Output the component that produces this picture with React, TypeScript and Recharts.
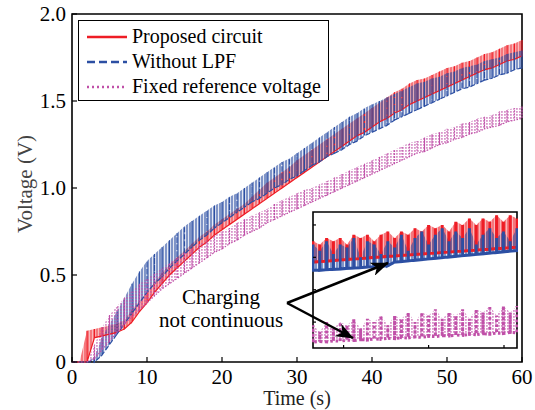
import { ComposedChart, Line, Area, XAxis, YAxis, Legend, ReferenceArea } from "recharts";

const SERIF = "'Liberation Serif', 'Times New Roman', serif";
const RED = "#EE1D25";
const BLUE = "#2C4FA3";
const MAGENTA = "#C050A8";

// main plot: one sample per second, lower and upper edge of each ripple band
const TIME = [
  0, 1, 2, 3, 4, 5, 6, 7, 8, 9, 10, 11, 12, 13, 14, 15, 16, 17, 18, 19, 20,
  21, 22, 23, 24, 25, 26, 27, 28, 29, 30, 31, 32, 33, 34, 35, 36, 37, 38, 39, 40,
  41, 42, 43, 44, 45, 46, 47, 48, 49, 50, 51, 52, 53, 54, 55, 56, 57, 58, 59, 60,
];
const RED_LOW = [
  0, 0, 0, 0.14, 0.15, 0.16, 0.17, 0.19, 0.23, 0.29, 0.34, 0.4, 0.45, 0.5, 0.54, 0.58, 0.62, 0.66, 0.69, 0.73, 0.76,
  0.79, 0.82, 0.85, 0.88, 0.91, 0.94, 0.97, 1.0, 1.03, 1.06, 1.09, 1.12, 1.15, 1.18, 1.21, 1.24, 1.27, 1.3, 1.32, 1.35,
  1.38, 1.4, 1.43, 1.45, 1.48, 1.5, 1.52, 1.54, 1.56, 1.58, 1.6, 1.62, 1.64, 1.66, 1.68, 1.69, 1.71, 1.73, 1.74, 1.76,
];
const RED_HIGH = [
  0, 0, 0.18, 0.19, 0.2, 0.21, 0.22, 0.24, 0.3, 0.35, 0.4, 0.46, 0.51, 0.56, 0.6, 0.64, 0.68, 0.72, 0.75, 0.79, 0.82,
  0.85, 0.88, 0.91, 0.95, 0.99, 1.03, 1.06, 1.09, 1.12, 1.16, 1.19, 1.22, 1.25, 1.28, 1.31, 1.34, 1.37, 1.4, 1.43, 1.46,
  1.49, 1.52, 1.55, 1.57, 1.6, 1.62, 1.63, 1.65, 1.67, 1.69, 1.7, 1.72, 1.73, 1.75, 1.77, 1.78, 1.8, 1.82, 1.83, 1.85,
];
const BLUE_LOW = [
  0, 0, 0, 0, 0.04, 0.1, 0.16, 0.22, 0.28, 0.34, 0.4, 0.45, 0.49, 0.54, 0.58, 0.62, 0.66, 0.7, 0.73, 0.77, 0.8,
  0.83, 0.86, 0.89, 0.92, 0.94, 0.97, 1.0, 1.02, 1.05, 1.07, 1.1, 1.13, 1.15, 1.18, 1.2, 1.22, 1.25, 1.27, 1.3, 1.32,
  1.34, 1.36, 1.39, 1.41, 1.43, 1.45, 1.47, 1.49, 1.51, 1.53, 1.55, 1.57, 1.58, 1.6, 1.62, 1.63, 1.65, 1.66, 1.68, 1.69,
];
const BLUE_HIGH = [
  0, 0, 0, 0.03, 0.14, 0.22, 0.29, 0.37, 0.45, 0.52, 0.58, 0.62, 0.66, 0.7, 0.74, 0.78, 0.81, 0.84, 0.87, 0.9, 0.92,
  0.95, 0.97, 1.0, 1.03, 1.06, 1.09, 1.12, 1.15, 1.17, 1.2, 1.23, 1.26, 1.29, 1.32, 1.35, 1.38, 1.41, 1.43, 1.46, 1.48,
  1.5, 1.52, 1.54, 1.56, 1.58, 1.6, 1.61, 1.63, 1.64, 1.66, 1.67, 1.69, 1.7, 1.71, 1.73, 1.74, 1.75, 1.77, 1.78, 1.79,
];
const MAG_LOW = [
  0, 0, 0, 0.02, 0.07, 0.12, 0.17, 0.22, 0.26, 0.3, 0.34, 0.38, 0.42, 0.45, 0.48, 0.51, 0.54, 0.57, 0.6, 0.63, 0.65,
  0.68, 0.7, 0.73, 0.75, 0.77, 0.8, 0.82, 0.84, 0.86, 0.88, 0.9, 0.92, 0.94, 0.96, 0.98, 1.0, 1.02, 1.04, 1.06, 1.08,
  1.1, 1.12, 1.14, 1.16, 1.18, 1.2, 1.21, 1.23, 1.25, 1.26, 1.28, 1.29, 1.31, 1.32, 1.34, 1.35, 1.36, 1.38, 1.39, 1.4,
];
const MAG_HIGH = [
  0, 0, 0, 0.1, 0.2, 0.27, 0.32, 0.37, 0.41, 0.45, 0.48, 0.51, 0.54, 0.57, 0.6, 0.63, 0.65, 0.68, 0.7, 0.73, 0.75,
  0.77, 0.8, 0.82, 0.84, 0.86, 0.88, 0.91, 0.93, 0.95, 0.97, 0.99, 1.0, 1.02, 1.04, 1.06, 1.08, 1.1, 1.12, 1.14, 1.16,
  1.18, 1.2, 1.22, 1.24, 1.26, 1.27, 1.29, 1.31, 1.32, 1.34, 1.35, 1.37, 1.38, 1.4, 1.41, 1.42, 1.44, 1.45, 1.46, 1.47,
];

const X_TICKS = [0, 10, 20, 30, 40, 50, 60];
const Y_TICKS = [0, 0.5, 1, 1.5, 2];

// zoomed inset around t = 40.3 .. 41.5 s
const INSET_TIME = [
  40.32, 40.36, 40.4, 40.44, 40.48, 40.52, 40.56, 40.6, 40.64, 40.68, 40.72, 40.76, 40.8, 40.84, 40.88, 40.92,
  40.96, 41.0, 41.04, 41.08, 41.12, 41.16, 41.2, 41.24, 41.28, 41.32, 41.36, 41.4, 41.44, 41.48, 41.52,
];
const INSET_RED_LOW = [
  1.385, 1.387, 1.388, 1.39, 1.392, 1.393, 1.395, 1.396, 1.398, 1.4, 1.401, 1.403, 1.404, 1.406, 1.407, 1.409,
  1.41, 1.412, 1.413, 1.415, 1.416, 1.418, 1.419, 1.421, 1.422, 1.424, 1.425, 1.427, 1.428, 1.43, 1.431,
];
const INSET_RED_HIGH = [
  1.45, 1.44, 1.46, 1.45, 1.46, 1.44, 1.47, 1.46, 1.47, 1.45, 1.47, 1.48, 1.46, 1.48, 1.47, 1.49,
  1.48, 1.5, 1.49, 1.5, 1.48, 1.51, 1.5, 1.52, 1.5, 1.52, 1.51, 1.53, 1.51, 1.53, 1.52,
];
const INSET_BLUE_LOW = [
  1.36, 1.36, 1.362, 1.363, 1.364, 1.366, 1.367, 1.368, 1.37, 1.371, 1.372, 1.374, 1.385, 1.387, 1.389, 1.391,
  1.393, 1.395, 1.397, 1.399, 1.401, 1.403, 1.405, 1.407, 1.409, 1.411, 1.413, 1.415, 1.417, 1.419, 1.421,
];
const INSET_BLUE_HIGH = [
  1.44, 1.42, 1.45, 1.41, 1.44, 1.43, 1.46, 1.4, 1.45, 1.44, 1.41, 1.45, 1.43, 1.47, 1.42, 1.46,
  1.48, 1.44, 1.47, 1.49, 1.45, 1.48, 1.46, 1.49, 1.44, 1.47, 1.49, 1.46, 1.48, 1.45, 1.49,
];
const INSET_MAG_LOW = [
  1.138, 1.14, 1.139, 1.142, 1.141, 1.144, 1.143, 1.146, 1.145, 1.148, 1.147, 1.15, 1.149, 1.152, 1.151, 1.154,
  1.153, 1.156, 1.155, 1.158, 1.157, 1.16, 1.159, 1.162, 1.161, 1.164, 1.163, 1.166, 1.165, 1.168, 1.167,
];
const INSET_MAG_HIGH = [
  1.19, 1.17, 1.2, 1.18, 1.2, 1.19, 1.21, 1.18, 1.21, 1.2, 1.22, 1.19, 1.22, 1.21, 1.23, 1.2,
  1.23, 1.22, 1.24, 1.21, 1.23, 1.22, 1.24, 1.21, 1.24, 1.23, 1.25, 1.22, 1.25, 1.23, 1.25,
];
const INSET_X_TICKS = [40.5, 41, 41.5];
const INSET_Y_TICKS = [1.2, 1.3, 1.4, 1.5];

type Row = { t: number; v?: number; band?: [number, number] };

// ripple drawn as a vertical spike from low to high at every sample, back down to low
function spikes(t: number[], lo: number[], hi: number[]): Row[] {
  const rows: Row[] = [];
  t.forEach((x, i) => {
    rows.push({ t: x, v: lo[i] });
    rows.push({ t: x, v: hi[i] });
    rows.push({ t: x, v: lo[i] });
  });
  return rows;
}

function band(t: number[], lo: number[], hi: number[]): Row[] {
  return t.map((x, i) => ({ t: x, band: [lo[i], hi[i]] }));
}

const SERIES = [
  { key: "red", name: "Proposed circuit", color: RED, dash: undefined, legendDash: undefined, lo: RED_LOW, hi: RED_HIGH, ilo: INSET_RED_LOW, ihi: INSET_RED_HIGH },
  { key: "blue", name: "Without LPF", color: BLUE, dash: "5 2", legendDash: "8 4", lo: BLUE_LOW, hi: BLUE_HIGH, ilo: INSET_BLUE_LOW, ihi: INSET_BLUE_HIGH },
  { key: "mag", name: "Fixed reference voltage", color: MAGENTA, dash: "1.5 1.5", legendDash: "2 3", lo: MAG_LOW, hi: MAG_HIGH, ilo: INSET_MAG_LOW, ihi: INSET_MAG_HIGH },
];

const FONT_SIZE = 20;
const fmtY = (v: number) => (v === 0 ? "0" : v.toFixed(1));

type Side = "bottom" | "top" | "left" | "right";

// ticks point into the plot; labels (if any) sit outside the frame
function inwardTick(side: Side, len: number, gap: number, fmt?: (v: number) => string) {
  return (p: any) => {
    const { x, y, payload } = p;
    let line: [number, number, number, number];
    if (side === "bottom") line = [x, y - gap, x, y - gap - len];
    else if (side === "top") line = [x, y, x, y + len];
    else if (side === "left") line = [x + gap, y, x + gap + len, y];
    else line = [x, y, x - len, y];
    return (
      <g>
        <line x1={line[0]} y1={line[1]} x2={line[2]} y2={line[3]} stroke="#000" strokeWidth={1.2} />
        {fmt && side === "bottom" && (
          <text x={x} y={y} dy="0.71em" textAnchor="middle" fontFamily={SERIF} fontSize={FONT_SIZE + 1} fill="#000">
            {fmt(payload.value)}
          </text>
        )}
        {fmt && side === "left" && (
          <text x={x} y={y} dy="0.35em" textAnchor="end" fontFamily={SERIF} fontSize={FONT_SIZE + 1} fill="#000">
            {fmt(payload.value)}
          </text>
        )}
      </g>
    );
  };
}

// dense vertical hatching stands in for the fast ripple of each trace
function Patterns({ prefix }: { prefix: string }) {
  return (
    <defs>
      <pattern id={`${prefix}-red`} width={3} height={4} patternUnits="userSpaceOnUse">
        <rect width={3} height={4} fill={RED} fillOpacity={0.4} />
        <rect width={2.2} height={4} fill={RED} />
      </pattern>
      <pattern id={`${prefix}-blue`} width={3} height={4} patternUnits="userSpaceOnUse">
        <rect width={3} height={4} fill={BLUE} fillOpacity={0.2} />
        <rect width={2} height={4} fill={BLUE} />
      </pattern>
      <pattern id={`${prefix}-mag`} width={3} height={3} patternUnits="userSpaceOnUse">
        <rect width={1.8} height={1.8} fill={MAGENTA} />
      </pattern>
    </defs>
  );
}

function LegendBox() {
  return (
    <div
      style={{
        border: "1.3px solid #000",
        background: "#fff",
        width: 251,
        height: 81,
        boxSizing: "border-box",
        paddingTop: 3,
        fontFamily: SERIF,
        fontSize: 20,
        color: "#000",
      }}
    >
      {SERIES.map((s) => (
        <div key={s.name} style={{ display: "flex", alignItems: "center", height: 25 }}>
          <svg width={53} height={10} style={{ flex: "none" }}>
            <line x1={8} y1={5} x2={48} y2={5} stroke={s.color} strokeWidth={2.5} strokeDasharray={s.legendDash} />
          </svg>
          <span style={{ lineHeight: "25px", whiteSpace: "nowrap" }}>{s.name}</span>
        </div>
      ))}
    </div>
  );
}

function Inset() {
  const xd: [number, number] = [40.32, 41.52];
  const yd: [number, number] = [1.12, 1.54];
  return (
    <div style={{ position: "absolute", left: 312, top: 211, width: 206, height: 138, background: "#fff" }}>
      <ComposedChart width={206} height={138} margin={{ top: 0, right: 0, bottom: 0, left: 0 }}>
        <Patterns prefix="in" />
        <XAxis type="number" dataKey="t" domain={xd} ticks={INSET_X_TICKS} height={1} axisLine={false} tickLine={false} tickSize={0} tickMargin={0} tick={inwardTick("bottom", 3, 0)} />
        <XAxis xAxisId="top" orientation="top" type="number" domain={xd} ticks={INSET_X_TICKS} height={1} axisLine={false} tickLine={false} tickSize={0} tickMargin={0} tick={inwardTick("top", 3, 0)} />
        <YAxis type="number" domain={yd} ticks={INSET_Y_TICKS} width={1} axisLine={false} tickLine={false} tickSize={0} tickMargin={0} tick={inwardTick("left", 3, 0)} />
        <YAxis yAxisId="right" orientation="right" type="number" domain={yd} ticks={INSET_Y_TICKS} width={1} axisLine={false} tickLine={false} tickSize={0} tickMargin={0} tick={inwardTick("right", 3, 0)} />
        {SERIES.map((s) => [
          <Area key={s.key + "-ib"} data={band(INSET_TIME, s.ilo, s.ihi)} dataKey="band" type="linear" stroke="none" fill={`url(#in-${s.key})`} isAnimationActive={false} />,
          <Line key={s.key + "-il"} data={spikes(INSET_TIME, s.ilo, s.ihi)} dataKey="v" type="linear" stroke={s.color} strokeWidth={3} strokeDasharray={s.key === "mag" ? "2.5 2.5" : undefined} dot={false} isAnimationActive={false} />,
        ])}
        <ReferenceArea x1={xd[0]} x2={xd[1]} y1={yd[0]} y2={yd[1]} fill="none" stroke="#000" strokeWidth={1.6} ifOverflow="visible" />
      </ComposedChart>
    </div>
  );
}

export default function App() {
  return (
    <div style={{ position: "absolute", left: 0, top: 0, width: 535, height: 410, background: "#fff" }}>
      <ComposedChart width={535} height={410} margin={{ top: 13, right: 12, bottom: 0, left: 0 }}>
        <Patterns prefix="main" />
        <XAxis
          type="number"
          dataKey="t"
          domain={[0, 60]}
          ticks={X_TICKS}
          height={48}
          axisLine={false}
          tickLine={false}
          tickSize={0}
          tickMargin={7}
          tick={inwardTick("bottom", 5, 7, String)}
          label={{ value: "Time (s)", position: "insideBottom", offset: 5, fontSize: FONT_SIZE, fill: "#222", fontFamily: SERIF }}
        />
        <XAxis xAxisId="top" orientation="top" type="number" domain={[0, 60]} ticks={X_TICKS} height={1} axisLine={false} tickLine={false} tickSize={0} tickMargin={0} tick={inwardTick("top", 5, 0)} />
        <YAxis
          type="number"
          domain={[0, 2]}
          ticks={Y_TICKS}
          width={72}
          axisLine={false}
          tickLine={false}
          tickSize={0}
          tickMargin={6}
          tick={inwardTick("left", 5, 6, fmtY)}
          label={{ value: "Voltage (V)", angle: -90, position: "center", dx: -11, dy: -4, fontSize: FONT_SIZE + 1, fill: "#444", fontFamily: SERIF }}
        />
        <YAxis yAxisId="right" orientation="right" type="number" domain={[0, 2]} ticks={Y_TICKS} width={1} axisLine={false} tickLine={false} tickSize={0} tickMargin={0} tick={inwardTick("right", 5, 0)} />
        {SERIES.map((s) => [
          <Area key={s.key + "-b"} data={band(TIME, s.lo, s.hi)} dataKey="band" type="linear" stroke="none" fill={`url(#main-${s.key})`} isAnimationActive={false} />,
          <Line key={s.key + "-l"} data={spikes(TIME, s.lo, s.hi)} dataKey="v" type="linear" stroke={s.color} strokeWidth={1.2} strokeDasharray={s.dash} dot={false} isAnimationActive={false} />,
        ])}
        <ReferenceArea x1={0} x2={60} y1={0} y2={2} fill="none" stroke="#000" strokeWidth={1.6} ifOverflow="visible" />
        <Legend
          layout="horizontal"
          verticalAlign="middle"
          align="center"
          wrapperStyle={{ left: 78, top: 20, width: 251 }}
          content={() => <LegendBox />}
        />
      </ComposedChart>
      <Inset />
      <svg width={535} height={410} style={{ position: "absolute", left: 0, top: 0, pointerEvents: "none" }}>
        <defs>
          <marker id="head" markerUnits="userSpaceOnUse" markerWidth={18} markerHeight={14} refX={17} refY={7} orient="auto">
            <path d="M0,0 L18,7 L0,14 L5,7 z" fill="#000" />
          </marker>
        </defs>
        <text x={221} y={304} textAnchor="middle" fontFamily={SERIF} fontSize={21} fill="#000">Charging</text>
        <text x={221} y={327} textAnchor="middle" fontFamily={SERIF} fontSize={21} fill="#000">not continuous</text>
        <line x1={287} y1={303} x2={388} y2={263} stroke="#000" strokeWidth={2.5} markerEnd="url(#head)" />
        <line x1={287} y1={303} x2={353} y2={338} stroke="#000" strokeWidth={2.5} markerEnd="url(#head)" />
      </svg>
    </div>
  );
}
